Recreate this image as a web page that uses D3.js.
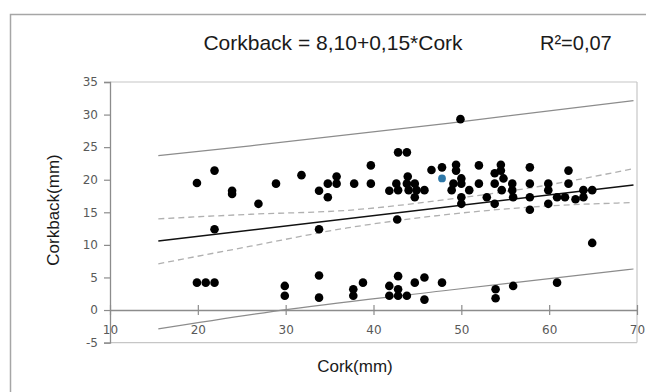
<!DOCTYPE html>
<html>
<head>
<meta charset="utf-8">
<script src="https://cdn.jsdelivr.net/npm/d3@7"></script>
<style>
  body { margin: 0; background: #fff; }
  svg { display: block; }
</style>
</head>
<body>
<svg id="chart" width="646" height="392"></svg>
<script>
// upper cluster of Cork / Corkback measurements (mm)
const upperPoints = [
  [19.9,19.5],[21.9,21.4],[23.9,18.3],[23.9,17.8],[26.9,16.3],[28.9,19.4],[31.8,20.7],
  [33.8,18.3],[34.8,19.4],[34.8,17.3],[35.8,20.5],[35.8,19.4],[37.8,19.4],[39.7,22.2],
  [39.7,19.4],[41.8,18.3],[21.9,12.4],[33.8,12.4],[42.7,13.9],
  [42.8,24.2],[43.8,24.2],[42.6,19.4],[42.8,18.4],[43.9,20.5],[43.8,19.4],[44.0,18.4],
  [44.7,19.4],[44.9,18.4],[44.7,17.3],[45.8,18.4],[46.6,21.5],[47.8,21.9],[49.4,22.3],
  [49.4,21.4],[49.1,19.4],[48.9,18.4],[50.0,20.2],[50.0,19.4],[50.0,17.3],[50.0,16.3],
  [50.9,18.4],[52.0,22.2],[52.0,19.4],[52.9,17.3],[54.5,22.3],[54.5,21.4],[53.8,21.0],
  [53.8,19.4],[54.8,20.2],[54.6,18.4],[53.8,16.3],[55.8,19.4],[55.8,18.4],[55.9,17.3],
  [57.8,21.9],[57.8,19.4],[57.8,17.3],[57.8,15.4],[59.9,19.4],[59.9,18.4],[59.9,16.3],
  [60.9,17.3],[61.8,17.3],[62.2,21.4],[62.2,19.4],[63.0,17.0],[63.9,18.4],[63.9,17.3],
  [64.9,18.4],[49.9,29.3]
];
// lower cluster
const lowerPoints = [
  [19.9,4.2],[20.9,4.2],[21.9,4.2],[29.9,3.7],[29.9,2.2],[33.8,5.3],[33.8,1.9],
  [37.7,3.2],[37.7,2.2],[38.8,4.2],[41.8,3.7],[41.8,2.2],[42.8,5.2],[42.8,3.2],
  [42.8,2.2],[43.8,2.2],[44.7,4.2],[45.8,5.0],[45.8,1.6],[47.8,4.2],[53.9,3.2],
  [53.9,1.8],[55.9,3.7],[60.9,4.2],[64.9,10.3]
];
// highlighted point
const selectedPoint = [[47.8,20.2]];

// fitted line and bands
const fitLine = [[15.5,10.6],[69.6,19.2]];
const confUpper = [[15.5,14.0],[26,14.7],[37,15.3],[48,16.9],[59,19.0],[69.6,21.7]];
const confLower = [[15.5,7.1],[26,9.8],[37,12.6],[48,14.6],[59,15.9],[69.6,16.5]];
const predUpper = [[15.5,23.7],[26,25.2],[48.7,28.7],[69.6,32.15]];
const predLower = [[15.5,-2.9],[30.5,0.15],[48.7,3.07],[69.6,6.3]];

const xTicks = [10,20,30,40,50,60,70];
const yTicks = [-5,0,5,10,15,20,25,30,35];

const titleText = "Corkback = 8,10+0,15*Cork";
const r2Text = "R²=0,07";
const xLabel = "Cork(mm)";
const yLabel = "Corkback(mm)";

const svg = d3.select("#chart");

const x = d3.scaleLinear().domain([10,70]).range([110,637]);
const y = d3.scaleLinear().domain([-5,35]).range([342.6,82]);

// outer chart frame
svg.append("rect")
  .attr("x", 10.5).attr("y", 14.5)
  .attr("width", 700).attr("height", 400)
  .attr("fill", "#fff")
  .attr("stroke", "#a6a6a6")
  .attr("stroke-width", 1.5);

// plot area border (top, right, bottom)
const box = svg.append("g").attr("stroke", "#c6c6c6").attr("stroke-width", 1.2).attr("fill", "none");
box.append("line").attr("x1", x(10)).attr("x2", x(70)).attr("y1", y(35)).attr("y2", y(35));
box.append("line").attr("x1", x(70)).attr("x2", x(70)).attr("y1", y(35)).attr("y2", y(-5));
box.append("line").attr("x1", x(10)).attr("x2", x(70)).attr("y1", y(-5)).attr("y2", y(-5));

// y axis
const yAxis = svg.append("g")
  .attr("transform", `translate(${x(10)},0)`)
  .call(d3.axisLeft(y).tickValues(yTicks).tickFormat(d => String(d)).tickSize(6).tickPadding(6));
yAxis.select(".domain").attr("stroke", "#8c8c8c").attr("stroke-width", 1.3);
yAxis.selectAll(".tick line").attr("stroke", "#8c8c8c").attr("stroke-width", 1.2);
yAxis.selectAll("text")
  .attr("font-family", "DejaVu Sans, Verdana, sans-serif")
  .attr("font-size", 12).attr("fill", "#595959");

// x axis along zero with crossing ticks
const xAxis = svg.append("g")
  .attr("transform", `translate(0,${y(0)})`)
  .call(d3.axisBottom(x).tickValues(xTicks).tickFormat(d => String(d)).tickSize(0).tickPadding(15));
xAxis.select(".domain").attr("stroke", "#8c8c8c").attr("stroke-width", 1.3);
xAxis.selectAll(".tick").append("line")
  .attr("y1", -5).attr("y2", 5)
  .attr("stroke", "#8c8c8c").attr("stroke-width", 1.2);
xAxis.selectAll("text")
  .attr("font-family", "DejaVu Sans, Verdana, sans-serif")
  .attr("font-size", 12).attr("fill", "#595959");

// bands and fit
const line = d3.line().x(d => x(d[0])).y(d => y(d[1])).curve(d3.curveMonotoneX);

svg.append("path").datum(predUpper).attr("d", line)
  .attr("fill", "none").attr("stroke", "#8c8c8c").attr("stroke-width", 1.2);
svg.append("path").datum(predLower).attr("d", line)
  .attr("fill", "none").attr("stroke", "#8c8c8c").attr("stroke-width", 1.2);
svg.append("path").datum(confUpper).attr("d", line)
  .attr("fill", "none").attr("stroke", "#b0b0b0").attr("stroke-width", 1.3)
  .attr("stroke-dasharray", "6,4");
svg.append("path").datum(confLower).attr("d", line)
  .attr("fill", "none").attr("stroke", "#b0b0b0").attr("stroke-width", 1.3)
  .attr("stroke-dasharray", "6,4");
svg.append("path").datum(fitLine).attr("d", line)
  .attr("fill", "none").attr("stroke", "#111").attr("stroke-width", 1.6);

// points
svg.append("g").selectAll("circle")
  .data(upperPoints.concat(lowerPoints))
  .join("circle")
  .attr("cx", d => x(d[0]))
  .attr("cy", d => y(d[1]))
  .attr("r", 4.3)
  .attr("fill", "#000");

svg.append("g").selectAll("circle")
  .data(selectedPoint)
  .join("circle")
  .attr("cx", d => x(d[0]))
  .attr("cy", d => y(d[1]))
  .attr("r", 3.9)
  .attr("fill", "#2e78a8");

// texts
svg.append("text")
  .attr("x", 333).attr("y", 50)
  .attr("text-anchor", "middle")
  .attr("font-family", "Liberation Sans, Arial, sans-serif")
  .attr("font-size", 21).attr("fill", "#1a1a1a")
  .text(titleText);

svg.append("text")
  .attr("x", 540).attr("y", 50)
  .attr("font-family", "Liberation Sans, Arial, sans-serif")
  .attr("font-size", 20).attr("fill", "#1a1a1a")
  .text(r2Text);

svg.append("text")
  .attr("x", 355).attr("y", 372)
  .attr("text-anchor", "middle")
  .attr("font-family", "Liberation Sans, Arial, sans-serif")
  .attr("font-size", 17).attr("fill", "#1a1a1a")
  .text(xLabel);

svg.append("text")
  .attr("transform", "translate(59,210) rotate(-90)")
  .attr("text-anchor", "middle")
  .attr("font-family", "Liberation Sans, Arial, sans-serif")
  .attr("font-size", 17).attr("fill", "#1a1a1a")
  .text(yLabel);
</script>
</body>
</html>
